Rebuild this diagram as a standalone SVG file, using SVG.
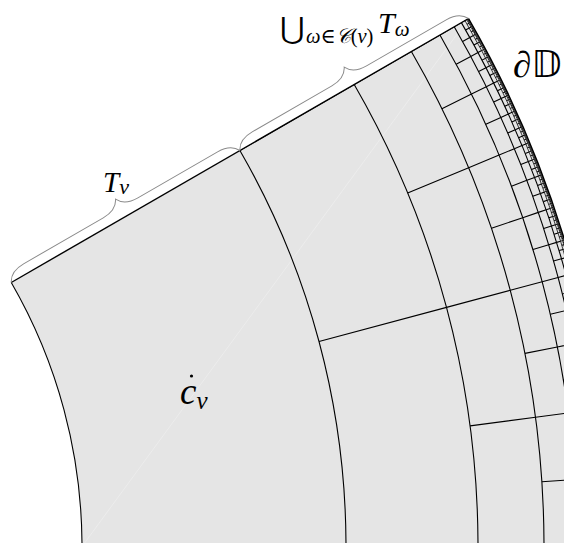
<svg xmlns="http://www.w3.org/2000/svg" width="564" height="543" viewBox="0 0 564 543">
<style>
.arc{fill:none;stroke:#000;stroke-width:1.1}
.fine{fill:none;stroke:#000;stroke-width:0.75}
.lay{fill:none;stroke:#000}
.brace{fill:none;stroke:#8a8a8a;stroke-width:1}
.m{font-family:"Liberation Serif","DejaVu Serif",serif;font-style:italic;fill:#000}
.up{font-style:normal}
</style>
<rect width="564" height="543" fill="#fff"/>
<g id="region">
<path d="M11.261 282.5 L468.523 18.5 A1056 1056 0 0 1 610 546.5 L82 546.5 A528 528 0 0 0 11.261 282.5 Z" fill="#e5e5e5"/>
<line x1="82" y1="546.5" x2="468.5" y2="18.5" stroke="#fff" stroke-opacity="0.35" stroke-width="0.8"/>
</g>
<g id="radial-divisions">
<path class="lay" d="M297.05 117.5 A858 858 0 0 1 412 546.5" pathLength="2" stroke-width="132" stroke-dasharray="0.004897 0.995103" stroke-dashoffset="0.0024485"/>
<path class="lay" d="M382.786 68 A957 957 0 0 1 511 546.5" pathLength="4" stroke-width="66" stroke-dasharray="0.008781 0.991219" stroke-dashoffset="0.0043905"/>
<path class="lay" d="M425.654 43.25 A1006.5 1006.5 0 0 1 560.5 546.5" pathLength="8" stroke-width="33" stroke-dasharray="0.016698 0.983302" stroke-dashoffset="0.008349"/>
<path class="lay" d="M447.089 30.875 A1031.25 1031.25 0 0 1 585.25 546.5" pathLength="16" stroke-width="16.5" stroke-dasharray="0.032595 0.967405" stroke-dashoffset="0.0162975"/>
<path class="lay" d="M457.806 24.6875 A1043.625 1043.625 0 0 1 597.625 546.5" pathLength="32" stroke-width="8.25" stroke-dasharray="0.064417 0.935583" stroke-dashoffset="0.0322085"/>
<path class="lay" d="M463.164 21.59375 A1049.8125 1049.8125 0 0 1 603.8125 546.5" pathLength="64" stroke-width="4.125" stroke-dasharray="0.128075 0.871925" stroke-dashoffset="0.0640375"/>
<path class="lay" d="M465.844 20.047 A1052.906 1052.906 0 0 1 606.906 546.5" pathLength="128" stroke-width="2.0625" stroke-dasharray="0.209 0.791" stroke-dashoffset="0.1045"/>
<path class="lay" d="M467.183 19.2735 A1054.453 1054.453 0 0 1 608.453 546.5" pathLength="256" stroke-width="1.031" stroke-dasharray="0.371 0.629" stroke-dashoffset="0.1855"/>
</g>
<g id="arcs">
<path class="arc" d="M11.261 282.5 A528 528 0 0 1 82 546.5"/>
<path class="arc" d="M239.892 150.5 A792 792 0 0 1 346 546.5"/>
<path class="arc" d="M354.207 84.5 A924 924 0 0 1 478 546.5"/>
<path class="arc" d="M411.365 51.5 A990 990 0 0 1 544 546.5"/>
<path class="arc" d="M439.944 35 A1023 1023 0 0 1 577 546.5"/>
<path class="arc" d="M454.233 26.75 A1039.5 1039.5 0 0 1 593.5 546.5"/>
<path class="arc" d="M461.378 22.625 A1047.75 1047.75 0 0 1 601.75 546.5"/>
<path class="fine" d="M464.951 20.5625 A1051.875 1051.875 0 0 1 605.875 546.5"/>
<path class="fine" d="M466.737 19.531 A1053.9375 1053.9375 0 0 1 607.9375 546.5"/>
<path class="fine" d="M467.630 19.016 A1054.96875 1054.96875 0 0 1 608.96875 546.5"/>
<path class="arc" style="stroke-width:1.5" d="M468.523 18.5 A1056 1056 0 0 1 610 546.5"/>
<line x1="11.261" y1="282.5" x2="468.523" y2="18.5" stroke="#000" stroke-width="1.4"/>
</g>
<g id="braces" transform="translate(11.261 282.5) rotate(-30)">
<path class="brace" d="M0 0 C3 -6 10 -10 20 -10 L112 -10 C122 -10 129 -14 132 -20 C135 -14 142 -10 152 -10 L244 -10 C254 -10 261 -6 264 0"/>
<path class="brace" d="M264 0 C267 -6 274 -10 284 -10 L376 -10 C386 -10 393 -14 396 -20 C399 -14 406 -10 416 -10 L508 -10 C518 -10 525 -6 528 0"/>
</g>
<g id="labels">
<text class="m" x="103" y="192" font-size="29">T<tspan font-size="22" dy="1.5">ν</tspan></text>
<text class="m up" x="280" y="39" font-size="30" font-family="DejaVu Serif">⋃</text>
<text class="m" x="306" y="43" font-size="20.5">ω<tspan class="up">∈</tspan>𝒞<tspan class="up">(</tspan>ν<tspan class="up">)</tspan></text>
<text class="m" x="378" y="33" font-size="30">T<tspan font-size="21" dy="3">ω</tspan></text>
<text class="m" x="513" y="77" font-size="37">∂<tspan class="up" font-family="DejaVu Sans">𝔻</tspan></text>
<circle cx="191.5" cy="376" r="1.6" fill="#000"/>
<text class="m" x="180" y="404" font-size="37">c<tspan font-size="25" dy="5">ν</tspan></text>
</g>
</svg>
